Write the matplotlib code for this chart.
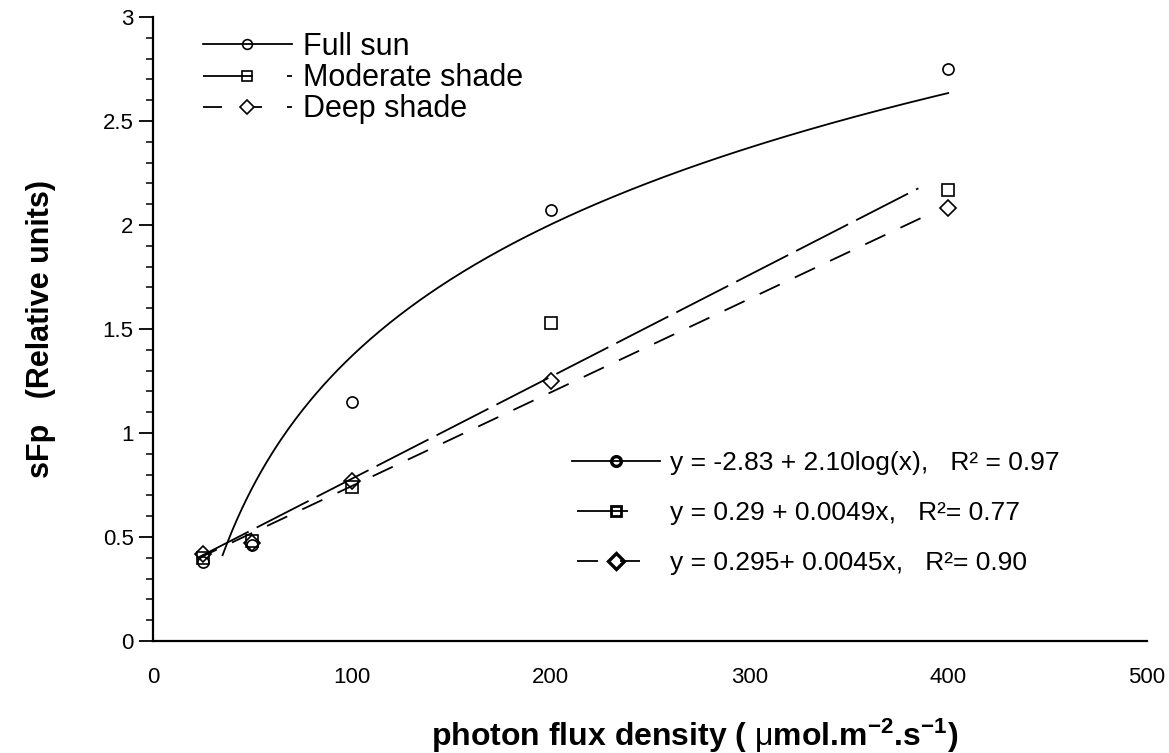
import matplotlib
matplotlib.use("Agg")
import matplotlib.pyplot as plt
from matplotlib.lines import Line2D
from matplotlib.ticker import MultipleLocator, FuncFormatter
import numpy as np

plt.rcParams['font.family'] = ['Liberation Sans', 'DejaVu Sans']
plt.rcParams['lines.scale_dashes'] = False
plt.rcParams['mathtext.fontset'] = 'custom'
plt.rcParams['mathtext.rm'] = 'Liberation Sans'
plt.rcParams['mathtext.bf'] = 'Liberation Sans:bold'
plt.rcParams['mathtext.default'] = 'bf'

# Measured sFp at each light level
ppfd = [25, 50, 100, 200, 400]
full_sun = [0.38, 0.46, 1.15, 2.07, 2.75]
moderate_shade = [0.40, 0.48, 0.74, 1.53, 2.17]
deep_shade = [0.42, 0.47, 0.77, 1.25, 2.08]

# Regression fits
sun_a, sun_b = -2.83, 2.10            # y = a + b*log10(x)
mod_a, mod_b = 0.29, 0.0049           # y = a + b*x
deep_a, deep_b = 0.295, 0.0045        # y = a + b*x
r2_sun, r2_mod, r2_deep = 0.97, 0.77, 0.90
sun_range = (35, 400)
mod_range = (22, 385)
deep_range = (22, 392)

fig = plt.figure(figsize=(11.69, 7.53), dpi=100)
ax = fig.add_axes([153 / 1169, 112 / 753, 994 / 1169, 624 / 753])

lw = 1.3
xs = np.linspace(*sun_range, 300)
ax.plot(xs, sun_a + sun_b * np.log10(xs), color='k', lw=lw)
xm = np.linspace(*mod_range, 2)
ax.plot(xm, mod_a + mod_b * xm, color='k', lw=lw, dashes=(42, 6.5))
xd = np.linspace(*deep_range, 2)
ax.plot(xd, deep_a + deep_b * xd, color='k', lw=lw, dashes=(16, 12))

mk = dict(ls='none', mfc='none', mec='k', mew=1.2)
ax.plot(ppfd, full_sun, marker='o', ms=8, **mk)
ax.plot(ppfd, moderate_shade, marker='s', ms=8, **mk)
ax.plot(ppfd, deep_shade, marker='D', ms=8, **mk)

ax.set_xlim(0, 500)
ax.set_ylim(0, 3)
ax.set_xticks(range(0, 501, 100))
ax.yaxis.set_major_locator(MultipleLocator(0.5))
ax.yaxis.set_minor_locator(MultipleLocator(0.1))
ax.yaxis.set_major_formatter(FuncFormatter(lambda v, _: f"{v:g}"))
ax.tick_params(axis='y', which='major', length=10, width=1.3, labelsize=16, pad=4)
ax.tick_params(axis='y', which='minor', length=5, width=1.1)
ax.tick_params(axis='x', length=0, labelsize=16, pad=19)
for s in ('top', 'right'):
    ax.spines[s].set_visible(False)
for s in ('left', 'bottom'):
    ax.spines[s].set_linewidth(1.6)

ax.set_xlabel(r"photon flux density ( $\mathrm{\mu}$mol.m$^{-2}$.s$^{-1}$)",
              fontsize=23, fontweight='bold')
ax.xaxis.label.set_verticalalignment('baseline')
ax.xaxis.set_label_coords(0.545, -0.168)
ax.set_ylabel("sFp   (Relative units)", fontsize=22, fontweight='bold')
ax.yaxis.set_label_coords(-0.098, 0.5)

# Treatment key
p = 0.72  # points per pixel
k1 = Line2D([], [], color='k', lw=lw, marker='o', ms=7, mfc='none', mew=1.2)
k2 = Line2D([], [], color='k', lw=lw, marker='s', ms=7, mfc='none', mew=1.2,
            linestyle=(0, (50 * p, 34 * p, 5 * p, 100)))
k3 = Line2D([], [], color='k', lw=lw, marker='D', ms=7.5, mfc='none', mew=1.2,
            linestyle=(0, (19 * p, 31 * p, 9 * p, 25 * p, 5 * p, 100)))
leg1 = ax.legend([k1, k2, k3], ['Full sun', 'Moderate shade', 'Deep shade'],
                 loc='upper left', bbox_to_anchor=(0.0503, 0.976),
                 frameon=False, borderpad=0, borderaxespad=0,
                 handlelength=2.91, handletextpad=0.36, labelspacing=0.04,
                 fontsize=22)
ax.add_artist(leg1)

# Regression key
e1 = Line2D([], [], color='k', lw=lw, marker='o', ms=7, mfc='none', mew=2.4)
e2 = Line2D([], [], color='k', lw=lw, marker='s', ms=7, mfc='none', mew=2.0,
            linestyle=(83 * p, (51 * p, 37 * p)))
e3 = Line2D([], [], color='k', lw=lw, marker='D', ms=8, mfc='none', mew=2.4,
            linestyle=(83 * p, (21 * p, 22 * p, 20 * p, 25 * p)))
eq_labels = [
    f"y = {sun_a:.2f} + {sun_b:.2f}log(x),   R\u00b2 = {r2_sun:.2f}",
    f"y = {mod_a:.2f} + {mod_b:.4f}x,   R\u00b2= {r2_mod:.2f}",
    f"y = {deep_a:.3f}+ {deep_b:.4f}x,   R\u00b2= {r2_deep:.2f}",
]
ax.legend([e1, e2, e3], eq_labels, loc='upper left',
          bbox_to_anchor=(0.4215, 0.3045), frameon=False, borderpad=0,
          borderaxespad=0, handlelength=3.34, handletextpad=0.38,
          labelspacing=0.99, fontsize=19)

fig.savefig("out.png", dpi=100, facecolor='white')
